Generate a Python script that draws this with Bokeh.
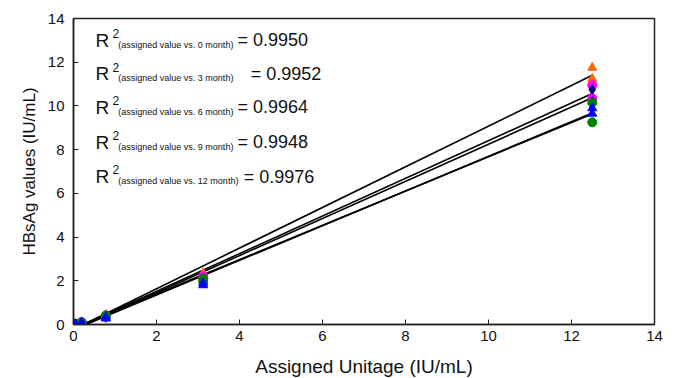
import numpy as np
from bokeh.plotting import figure
from bokeh.models import Range1d, Label
from bokeh.embed import file_html
from bokeh.resources import INLINE

# Assigned unitage (IU/mL) of the dilution panel
x_assigned = [0.049, 0.195, 0.78, 3.125, 12.5]

# Measured HBsAg values (IU/mL), two replicates per time point
m0_a = [0.03, 0.12, 0.45, 2.35, 11.75]
m0_b = [0.02, 0.10, 0.40, 2.25, 11.25]
m3_a = [0.03, 0.11, 0.42, 2.20, 10.95]
m3_b = [0.02, 0.09, 0.38, 2.10, 10.35]
m12_a = [0.02, 0.08, 0.36, 2.05, 10.75]
m12_b = [0.02, 0.07, 0.33, 1.95, 10.20]
m6_a = [0.03, 0.10, 0.40, 2.10, 10.15]
m6_b = [0.02, 0.08, 0.35, 1.95, 9.25]
m9_a = [0.02, 0.07, 0.32, 1.90, 9.90]
m9_b = [0.01, 0.06, 0.28, 1.80, 9.65]

series_names = ["0 month", "3 month", "12 month", "6 month", "9 month"]
series_colors = ["#FF6600", "#FF00FF", "#000080", "#008000", "#0000FF"]
series_markers = ["triangle", "circle", "diamond", "circle", "triangle"]
series_data = [(m0_a, m0_b), (m3_a, m3_b), (m12_a, m12_b), (m6_a, m6_b), (m9_a, m9_b)]

r2_labels = ["(assigned value vs. 0 month)", "(assigned value vs. 3 month)",
             "(assigned value vs. 6 month)", "(assigned value vs. 9 month)",
             "(assigned value vs. 12 month)"]
r2_values = ["= 0.9950", "= 0.9952", "= 0.9964", "= 0.9948", "= 0.9976"]

x_ticks = [0, 2, 4, 6, 8, 10, 12, 14]
y_ticks = [0, 2, 4, 6, 8, 10, 12, 14]

FONT = "Liberation Sans"

p = figure(frame_width=581, frame_height=306,
           x_range=Range1d(0, 14), y_range=Range1d(0, 14),
           output_backend="svg", toolbar_location=None,
           min_border_left=73, min_border_top=18, min_border_right=19,
           min_border_bottom=0, background_fill_color="white",
           border_fill_color="white")
p.grid.visible = False
p.outline_line_color = "#222222"
p.outline_line_width = 1.5

for ax in (p.xaxis[0], p.yaxis[0]):
    ax.axis_line_color = "#222222"
    ax.axis_line_width = 1.5
    ax.major_tick_in = 5
    ax.major_tick_out = 0
    ax.minor_tick_line_color = None
    ax.major_tick_line_color = "#222222"
    ax.major_label_text_font = FONT
    ax.major_label_text_font_size = "15px"
    ax.major_label_text_color = "#111111"
    ax.axis_label_text_font = FONT
    ax.axis_label_text_font_style = "normal"
    ax.axis_label_text_color = "#111111"

p.xaxis.ticker = x_ticks
p.yaxis.ticker = y_ticks
p.xaxis.axis_label = "Assigned Unitage (IU/mL)"
p.yaxis.axis_label = "HBsAg values (IU/mL)"
p.xaxis.axis_label_text_font_size = "19px"
p.yaxis.axis_label_text_font_size = "17px"
p.xaxis.major_label_standoff = 6
p.yaxis.major_label_standoff = 9
p.xaxis.axis_label_standoff = 12
p.yaxis.axis_label_standoff = 6

# regression lines
xs = np.array(x_assigned)
for (a, b) in series_data:
    xx = np.concatenate([xs, xs])
    yy = np.array(a + b)
    slope, intercept = np.polyfit(xx, yy, 1)
    lx = [min(x_assigned), max(x_assigned)]
    ly = [slope * v + intercept for v in lx]
    p.line(lx, ly, line_color="black", line_width=1.6)

# points
for (a, b), c, m in zip(series_data, series_colors, series_markers):
    for rep in (a, b):
        p.scatter(x_assigned, rep, marker=m, size=9 if m != "diamond" else 10,
                  fill_color=c, line_color=c)

# R^2 annotations
row_y = [13.0, 11.48, 9.93, 8.33, 6.77]
eq_x = [3.95, 4.27, 3.95, 3.95, 4.10]
for i in range(5):
    y = row_y[i]
    p.add_layout(Label(x=0.53, y=y, text="R", text_font=FONT, text_font_size="19px",
                       text_baseline="middle", text_color="#111111"))
    p.add_layout(Label(x=0.94, y=y + 0.3, text="2", text_font=FONT, text_font_size="12px",
                       text_baseline="middle", text_color="#111111"))
    p.add_layout(Label(x=1.08, y=y - 0.22, text=r2_labels[i], text_font=FONT,
                       text_font_size="9px", text_baseline="middle", text_color="#111111"))
    p.add_layout(Label(x=eq_x[i], y=y, text=r2_values[i], text_font=FONT,
                       text_font_size="18px", text_baseline="middle", text_color="#111111"))

open("out.html", "w").write(file_html(p, INLINE))
